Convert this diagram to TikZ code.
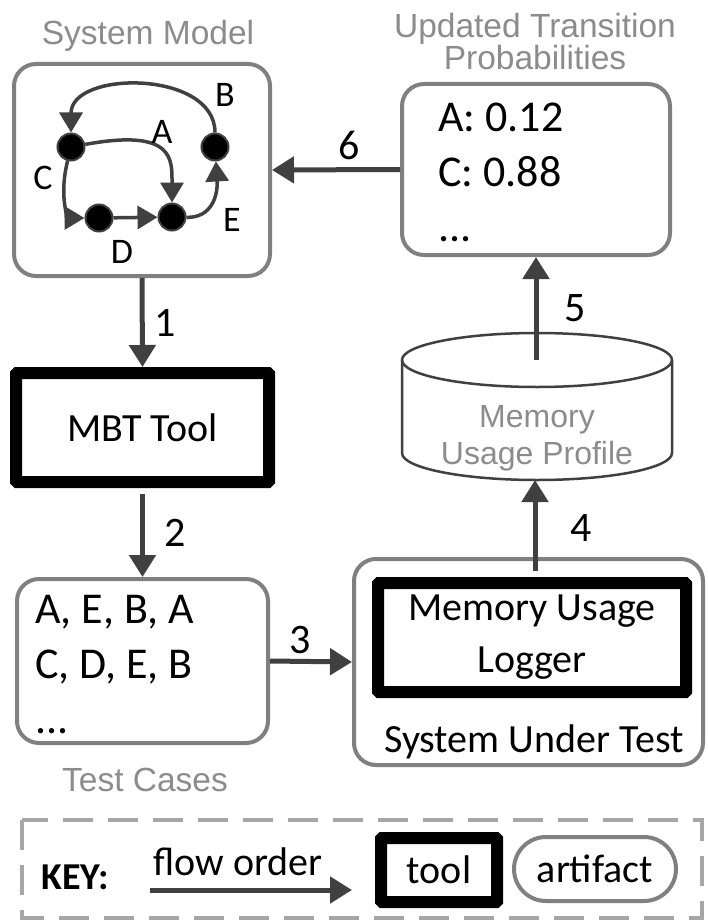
\documentclass[tikz,border=0pt]{standalone}
\usepackage{fontspec}
\setmainfont{Carlito}
\newfontfamily\titlefont{Liberation Sans}
\usetikzlibrary{arrows.meta}
\definecolor{arrowgray}{HTML}{404040}
\definecolor{boxgray}{HTML}{808080}
\definecolor{titlegray}{HTML}{8C8C8C}
\definecolor{keygray}{HTML}{A6A6A6}

\begin{document}
\begin{tikzpicture}[x=1pt,y=-1pt,
  artifact/.style={draw=boxgray,line width=4pt,rounded corners=22pt},
  toolbox/.style={draw=black,line width=12pt,rounded corners=1pt,align=center,
    font=\fontsize{40}{52}\selectfont},
  title/.style={text=titlegray,align=center,font=\titlefont\fontsize{33.5}{32}\selectfont},
  body/.style={align=left,anchor=west,inner sep=0pt,font=\fontsize{44}{55}\selectfont},
  plain/.style={font=\fontsize{40}{48}\selectfont},
  num/.style={font=\fontsize{42}{48}\selectfont},
  flow/.style={draw=arrowgray,line width=5pt,-{Triangle[length=22pt,width=26pt]}},
  vertex/.style={circle,fill=black,draw=arrowgray,line width=2pt,minimum size=27pt,inner sep=0pt},
  garrow/.style={draw=arrowgray,line width=3.5pt,-{Triangle[length=20pt,width=23pt]}},
  glabel/.style={font=\fontsize{36}{40}\selectfont},
  cylline/.style={draw=arrowgray,line width=2.5pt},
  keybox/.style={draw=keygray,line width=4pt,dash pattern=on 30pt off 15pt}]
  \useasboundingbox (0,0) rectangle (708,923);

  % boxes
  \node[artifact,minimum width=256pt,minimum height=212pt] (sysmodel) at (142,170) {};
  \node[title] (sysmodeltitle) at (148,36) {System Model};
  \node[artifact,minimum width=268pt,minimum height=171pt] (updated) at (536,169.5) {};
  \node[title] (updatedtitle) at (535,42) {Updated Transition\\Probabilities};
  \node[body] (updtext) at (438,172) {A: 0.12\\C: 0.88\\...};
  \node[toolbox,minimum width=253pt,minimum height=109pt] (mbt) at (142.5,427.5) {MBT Tool};
  \node[artifact,minimum width=251pt,minimum height=164pt] (tests) at (142.5,661) {};
  \node[body] (testtext) at (35,665) {A, E, B, A\\C, D, E, B\\...};
  \node[title] (teststitle) at (145,780) {Test Cases};
  \node[artifact,minimum width=349pt,minimum height=206pt] (sut) at (528.5,662) {};
  \node[toolbox,minimum width=308pt,minimum height=109pt] (logger) at (532,637.5) {Memory Usage\\Logger};
  \node[plain] (sutlabel) at (534,742) {System Under Test};

  % memory usage profile
  \draw[cylline] (402,360) -- (402,453) arc[start angle=180,end angle=0,x radius=135,y radius=27] -- (672,360);
  \draw[cylline] (537,360) ellipse[x radius=135,y radius=27];
  \node[title,font=\titlefont\fontsize{32}{37}\selectfont] (profile) at (537,438) {Memory\\Usage Profile};
  \coordinate (cyltop) at (536,360);
  \coordinate (cylbot) at (535,480);

  % system model graph
  \node[vertex] (nC) at (71,147) {};
  \node[vertex] (nB) at (215,147) {};
  \node[vertex] (nD) at (99,218) {};
  \node[vertex] (nE) at (172,217) {};
  \draw[garrow] (nB) .. controls (215,70) and (71,70) .. (nC);
  \draw[garrow] (nC) .. controls (175,128) and (172,160) .. (nE);
  \draw[garrow] (nC) .. controls (58,200) and (70,218) .. (nD);
  \draw[garrow] (nD) -- (nE);
  \draw[garrow] (nE) .. controls (212,218) and (218,195) .. (nB);
  \node[glabel] (labB) at (225,95) {B};
  \node[glabel] (labA) at (162,132) {A};
  \node[glabel] (labC) at (43,178) {C};
  \node[glabel] (labD) at (122,252) {D};
  \node[glabel] (labE) at (232,220) {E};

  % flow
  \draw[flow] (sysmodel.south) -- (mbt.north) node[num,midway,right=6pt] {1};
  \draw[flow,shorten <=6pt] (mbt.south) -- (tests.north) node[num,midway,right=16pt] {2};
  \draw[flow] (tests.east) -- (sut.west) node[num,pos=0.37,above=2pt] {3};
  \draw[flow,shorten <=6pt] (cylbot |- logger.north) -- (cylbot) node[num,midway,right=30pt] {4};
  \draw[flow] (cyltop) -- (updated.south) node[num,midway,right=23pt] {5};
  \draw[flow] (updated.west) -- (sysmodel.east) node[num,pos=0.4,above=4pt] {6};

  % key
  \draw[keybox] (22,820) rectangle (702,918);
  \node[plain,font=\bfseries\fontsize{38}{44}\selectfont] (key) at (75,877) {KEY:};
  \coordinate (flowstart) at (150,890);
  \coordinate (flowend) at (352,890);
  \draw[flow] (flowstart) -- (flowend);
  \node[plain] (flowlabel) at (238,862) {flow order};
  \node[toolbox,minimum width=116pt,minimum height=64pt] (keytool) at (439,870) {tool};
  \node[artifact,rounded corners=32pt,minimum width=162pt,minimum height=64pt,
    font=\fontsize{40}{48}\selectfont] (keyartifact) at (595,869) {artifact};
\end{tikzpicture}
\end{document}
